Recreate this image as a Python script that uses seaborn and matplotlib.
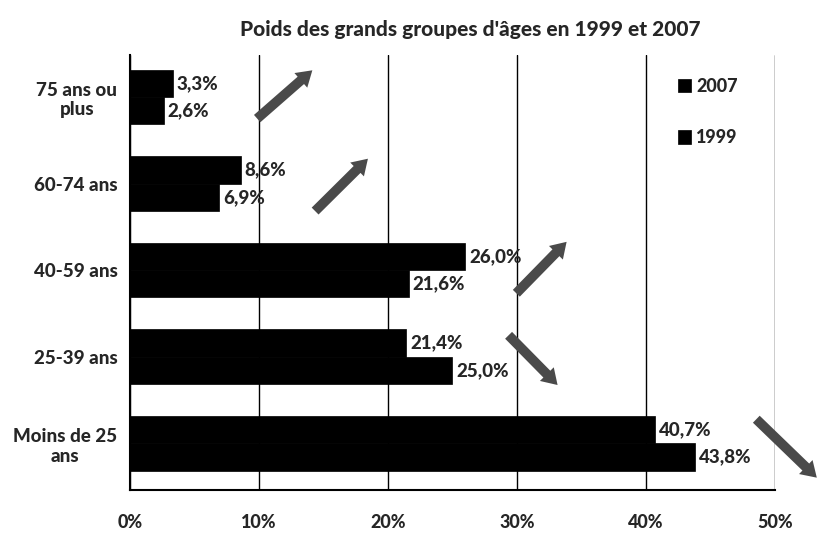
import pandas as pd
import matplotlib.pyplot as plt
import seaborn as sns

# Data (percent of population)
groups = ["75 ans ou\nplus", "60-74 ans", "40-59 ans", "25-39 ans", "Moins de 25\nans"]
years = ["2007", "1999"]
share_2007 = [3.3, 8.6, 26.0, 21.4, 40.7]
share_1999 = [2.6, 6.9, 21.6, 25.0, 43.8]

# trend arrows: (x0, y0, x1, y1) in data units (x = %, y = group index)
arrows = [
    (9.7, 0.27, 14.3, -0.33),
    (14.2, 1.34, 18.6, 0.69),
    (29.8, 2.29, 34.0, 1.65),
    (29.2, 2.73, 33.3, 3.35),
    (48.4, 3.70, 53.4, 4.42),
]

df = pd.DataFrame({
    "groupe": groups * 2,
    "annee": ["2007"] * 5 + ["1999"] * 5,
    "part": share_2007 + share_1999,
})

sns.set_style("white")
plt.rcParams["font.family"] = ["Lato", "DejaVu Sans"]

fig = plt.figure(figsize=(8.19, 5.33), dpi=100)
ax = fig.add_axes([0.1587, 0.0807, 0.7875, 0.816])

sns.barplot(data=df, y="groupe", x="part", hue="annee", hue_order=years,
            order=groups, orient="h", palette=["black", "black"],
            width=0.63, ax=ax, zorder=3, edgecolor="black", linewidth=0.5)

for cont, vals in zip(ax.containers, [share_2007, share_1999]):
    for bar, v in zip(cont, vals):
        ax.text(bar.get_width() + 0.3, bar.get_y() + bar.get_height() / 2,
                f"{v:.1f}%".replace(".", ","), va="center", ha="left",
                fontsize=13.5, fontweight="black", zorder=4)

for x0, y0, x1, y1 in arrows:
    ax.annotate("", xy=(x1, y1), xytext=(x0, y0), annotation_clip=False,
                arrowprops=dict(arrowstyle="simple,head_width=1.4,head_length=1.1,tail_width=0.7",
                                color="#4a4a4a", lw=0))

ax.set_xlim(0, 50)
ax.set_ylim(4.54, -0.485)
ax.set_xticks([0, 10, 20, 30, 40, 50])
ax.set_xticklabels(["0%", "10%", "20%", "30%", "40%", "50%"])
ax.xaxis.grid(True, color="black", linewidth=1, zorder=0)
ax.set_axisbelow(True)
ax.tick_params(axis="x", labelsize=13, pad=14)
ax.tick_params(axis="y", labelsize=13.5, length=0, pad=9)
for lab in ax.get_xticklabels() + ax.get_yticklabels():
    lab.set_fontweight("black")
    lab.set_multialignment("center")
ax.set_xlabel("")
ax.set_ylabel("")
for side in ["top", "right"]:
    ax.spines[side].set_visible(False)
for side in ["left", "bottom"]:
    ax.spines[side].set_color("black")
    ax.spines[side].set_linewidth(1.5)

ax.legend(loc="upper left", bbox_to_anchor=(0.825, 0.985), frameon=False,
          handlelength=0.7, handleheight=0.8, handletextpad=0.3,
          labelspacing=1.9, prop={"weight": "black", "size": 13})

fig.text(0.574, 0.945, "Poids des grands groupes d'âges en 1999 et 2007",
         ha="center", va="center", fontsize=15, fontweight="black")

fig.savefig("out.png", dpi=100)
